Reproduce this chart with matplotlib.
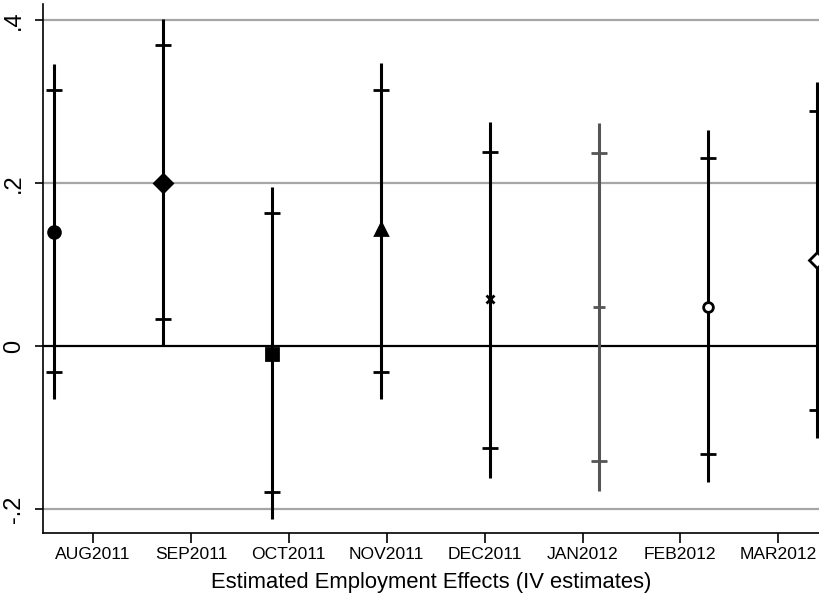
import matplotlib.pyplot as plt
import numpy as np

plt.rcParams['font.family'] = ['Liberation Sans', 'DejaVu Sans']

# data
months = ["AUG2011", "SEP2011", "OCT2011", "NOV2011", "DEC2011", "JAN2012", "FEB2012", "MAR2012"]
estimate = [0.140, 0.201, -0.009, 0.144, 0.058, 0.048, 0.048, 0.106]
ci90_lo = [-0.032, 0.033, -0.179, -0.031, -0.125, -0.141, -0.132, -0.078]
ci90_hi = [0.314, 0.370, 0.163, 0.315, 0.239, 0.237, 0.231, 0.289]
ci95_lo = [-0.065, 0.000, -0.212, -0.065, -0.161, -0.177, -0.167, -0.113]
ci95_hi = [0.347, 0.402, 0.195, 0.348, 0.275, 0.274, 0.265, 0.324]

# marker styles per month (Stata-like)
markers = ["o", "D", "s", "^", "x", "+", "o", "D"]
filled = [True, True, True, True, True, True, False, False]
msizes = [8.5, 9, 8, 9, 6, 9, 7, 8]
colors = ["black"] * 5 + ["#555555"] + ["black"] * 2

fig = plt.figure(figsize=(8.19, 6.0), dpi=100)
ax = fig.add_axes([43 / 819, 67 / 600, (819 - 43) / 819, (596 - 67) / 600])

# points sit on 109 px spacing, labels on 98 px spacing
px_unit = 97.9
x = 1 - (93 - 54.5) / px_unit + (108.9 / px_unit) * np.arange(len(months))
ticks = np.arange(1, len(months) + 1)

ax.set_xlim(1 - (93 - 43) / px_unit, 1 + (819 - 93) / px_unit)
ax.set_ylim(-0.229, 0.42)

for yv in [-0.2, 0.2, 0.4]:
    ax.axhline(yv, color="#a6a6a6", lw=1.6, zorder=1)
ax.axhline(0, color="black", lw=1.6, zorder=2)

for i in range(len(months)):
    c = colors[i]
    ax.plot([x[i], x[i]], [ci95_lo[i], ci95_hi[i]], color=c, lw=2.2, zorder=3,
            solid_capstyle="butt")
    ax.plot([x[i], x[i]], [ci90_lo[i], ci90_hi[i]], color=c, lw=0, zorder=3,
            marker="_", ms=12, mew=2)
    ax.plot(x[i], estimate[i], marker=markers[i], ms=msizes[i], color=c,
            mfc=c if filled[i] else "white", mec=c, mew=2, zorder=4, ls="none")

ax.set_xticks(ticks)
ax.set_xticklabels(months, fontsize=12.6)
ax.set_yticks([-0.2, 0, 0.2, 0.4])
ax.set_yticklabels(["-.2", "0", ".2", ".4"], fontsize=17, rotation=90, va="center")
ax.tick_params(axis="x", length=7, width=1.2, pad=3)
ax.tick_params(axis="y", length=6, width=1.2, pad=7)

ax.spines["top"].set_visible(False)
ax.spines["right"].set_visible(False)
ax.spines["left"].set_linewidth(1.2)
ax.spines["bottom"].set_linewidth(1.2)

ax.set_xlabel("Estimated Employment Effects (IV estimates)", fontsize=15.8, labelpad=7)

fig.savefig("out.png", dpi=100)
